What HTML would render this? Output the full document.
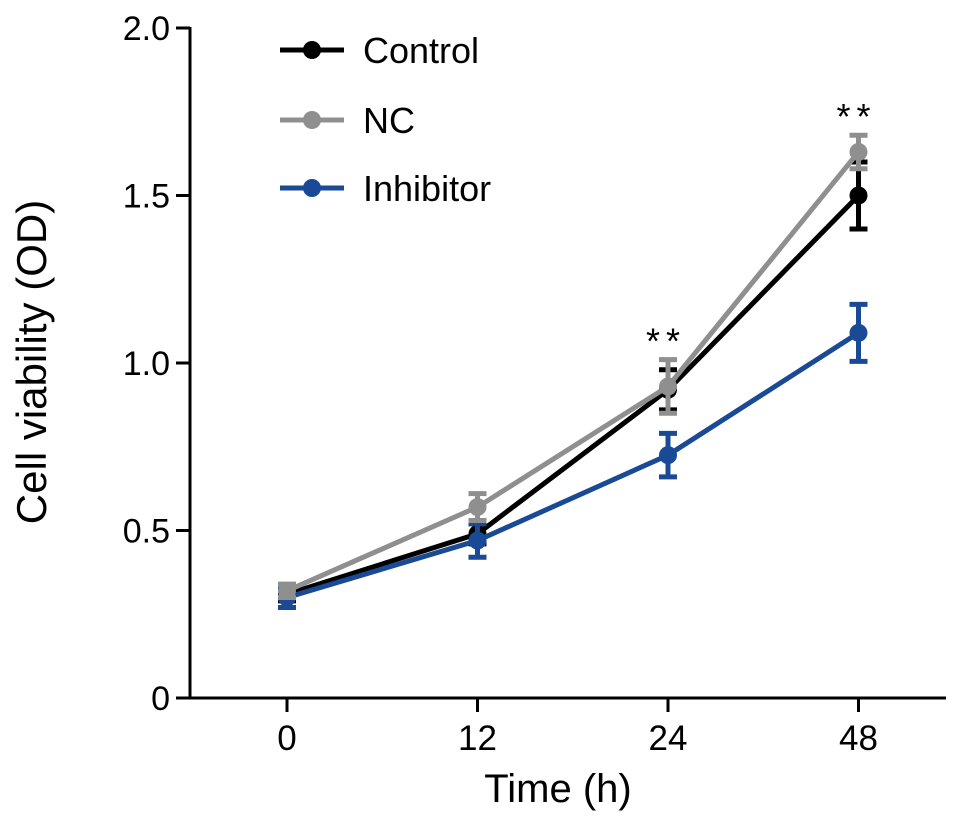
<!DOCTYPE html>
<html><head><meta charset="utf-8"><style>
html,body{margin:0;padding:0;background:#fff;}
text{font-family:"Liberation Sans",Arial,sans-serif;}
</style></head><body>
<svg id="chart" width="969" height="822" xmlns="http://www.w3.org/2000/svg"></svg>
<script>
const categories = ['0','12','24','48'];
const controlValues = [0.31, 0.49, 0.92, 1.50];
const controlErrors = [0.02, 0.03, 0.06, 0.10];
const ncValues = [0.32, 0.57, 0.93, 1.63];
const ncErrors = [0.02, 0.04, 0.08, 0.05];
const inhibitorValues = [0.30, 0.47, 0.725, 1.09];
const inhibitorErrors = [0.03, 0.05, 0.065, 0.085];
const yTicks = [0, 0.5, 1.0, 1.5, 2.0];
const yTickLabels = ['0','0.5','1.0','1.5','2.0'];
const sigFlags = [false, false, true, true];

const NS='http://www.w3.org/2000/svg';
const svg=document.getElementById('chart');
const x0=190, y0=698, yTop=28;
function yScale(v){return y0-(v/2)*(y0-yTop);}
function xScale(i){return 287+i*190.5;}
function mk(tag,attrs,parent){const e=document.createElementNS(NS,tag);for(const k in attrs)e.setAttribute(k,attrs[k]);(parent||svg).appendChild(e);return e;}

const axes=mk('g',{});


const ya=mk('line',{x1:x0,y1:yTop-1,x2:x0,y2:y0+1,stroke:'#000','stroke-width':3},axes);


const xa=mk('line',{x1:x0-1,y1:y0,x2:946,y2:y0,stroke:'#000','stroke-width':3},axes);


yTicks.forEach((t,i)=>{
  const y=yScale(t);
  mk('line',{x1:x0-14,y1:y,x2:x0,y2:y,stroke:'#000','stroke-width':3},axes);
  const tx=mk('text',{x:x0-20,y:y+12,'text-anchor':'end','font-size':34,fill:'#000'},axes);
  tx.textContent=yTickLabels[i];
  
  
});
categories.forEach((c,i)=>{
  const x=xScale(i);
  mk('line',{x1:x,y1:y0,x2:x,y2:y0+14,stroke:'#000','stroke-width':3},axes);
  const tx=mk('text',{x:x,y:y0+52,'text-anchor':'middle','font-size':35,fill:'#000'},axes);
  tx.textContent=c;
  
  
});
const xt=mk('text',{x:558,y:802,'text-anchor':'middle','font-size':40,fill:'#000'});
xt.textContent='Time (h)';


const yt=mk('text',{x:0,y:0,'text-anchor':'middle','font-size':42,fill:'#000',transform:'translate(46,362) rotate(-90)'});
yt.textContent='Cell viability (OD)';



function series(name,vals,errs,color){
  const g=mk('g',{});
  
  
  const pts=vals.map((v,i)=>xScale(i)+','+yScale(v)).join(' ');
  const pl=mk('polyline',{points:pts,fill:'none',stroke:color,'stroke-width':5},g);
  
  
  vals.forEach((v,i)=>{
    const x=xScale(i);
    const eb=mk('path',{d:`M${x},${yScale(v+errs[i])}V${yScale(v-errs[i])}M${x-9},${yScale(v+errs[i])}H${x+9}M${x-9},${yScale(v-errs[i])}H${x+9}`,stroke:color,'stroke-width':5,fill:'none'},g);
    
    
    const c=mk('circle',{cx:x,cy:yScale(v),r:9,fill:color},g);
    
    
  });
}
series('control',controlValues,controlErrors,'#000');
series('inhibitor',inhibitorValues,inhibitorErrors,'#1a4a96');
series('nc',ncValues,ncErrors,'#8f8f8f');

sigFlags.forEach((f,i)=>{
  if(!f)return;
  const top=Math.max(controlValues[i]+controlErrors[i],ncValues[i]+ncErrors[i]);
  const s=mk('text',{x:xScale(i)-2,y:yScale(top)-6,'text-anchor':'middle','font-size':36,fill:'#000','letter-spacing':'6'});
  s.textContent='**';
  
  
});

const leg=[['Control','#000',50],['NC','#8f8f8f',120],['Inhibitor','#1a4a96',188]];
leg.forEach(([n,c,y])=>{
  const g=mk('g',{});
  
  
  mk('line',{x1:280,y1:y,x2:344,y2:y,stroke:c,'stroke-width':5},g);
  mk('circle',{cx:312,cy:y,r:9,fill:c},g);
  const t=mk('text',{x:363,y:y+13,'font-size':36,fill:'#000'},g);
  t.textContent=n;
});
</script>
</body></html>
